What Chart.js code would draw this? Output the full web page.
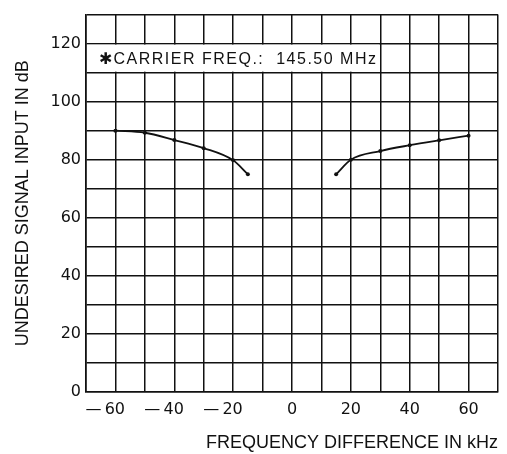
<!DOCTYPE html>
<html>
<head>
<meta charset="utf-8">
<script src="https://cdn.jsdelivr.net/npm/chart.js@4.4.1/dist/chart.umd.min.js"></script>
<style>
  html, body { margin: 0; padding: 0; background: #fff; }
  #wrap { width: 507px; height: 454px; }
</style>
</head>
<body>
<div id="wrap"><canvas id="c" width="507" height="454"></canvas></div>
<script>
// ---- data ----
const leftFreq   = [-60, -50, -40, -30, -20, -15];
const leftLevel  = [90, 89.3, 86.8, 84, 79.8, 75];
const rightFreq  = [15, 20, 30, 40, 50, 60];
const rightLevel = [75, 80, 83, 85, 86.7, 88.3];

const xTickLabels = [-60, -40, -20, 0, 20, 40, 60];
const yTickLabels = [0, 20, 40, 60, 80, 100, 120];

const xTitle = 'FREQUENCY DIFFERENCE IN kHz';
const yTitle = 'UNDESIRED SIGNAL INPUT IN dB';
const noteText = '\u2731CARRIER FREQ.:  145.50 MHz';
const noteBox = { x0: -70, x1: 30, y0: 110, y1: 120 };

const toPoints = (xs, ys) => xs.map((x, i) => ({ x: x, y: ys[i] }));

const ink = '#111';

const notePlugin = {
  id: 'note',
  beforeDatasetsDraw(chart) {
    const { ctx, scales: { x, y } } = chart;
    const l = x.getPixelForValue(noteBox.x0);
    const r = x.getPixelForValue(noteBox.x1);
    const t = y.getPixelForValue(noteBox.y1);
    const b = y.getPixelForValue(noteBox.y0);
    ctx.save();
    ctx.fillStyle = '#fff';
    ctx.fillRect(l + 1, t + 1, r - l - 2, b - t - 2);
    ctx.fillStyle = ink;
    ctx.font = '16px "Liberation Sans", Arial, sans-serif';
    try { ctx.letterSpacing = '1.5px'; } catch (e) {}
    ctx.textBaseline = 'middle';
    ctx.textAlign = 'left';
    ctx.fillText(noteText, l + 13, (t + b) / 2 + 1);
    ctx.restore();
  }
};

const lineStyle = {
  borderColor: ink,
  backgroundColor: ink,
  borderWidth: 1.8,
  pointRadius: 2,
  pointHoverRadius: 2,
  pointBackgroundColor: ink,
  pointBorderWidth: 0,
  cubicInterpolationMode: 'monotone',
  fill: false
};

new Chart(document.getElementById('c'), {
  type: 'line',
  data: {
    datasets: [
      Object.assign({ label: 'lower', data: toPoints(leftFreq, leftLevel) }, lineStyle),
      Object.assign({ label: 'upper', data: toPoints(rightFreq, rightLevel) }, lineStyle)
    ]
  },
  options: {
    responsive: false,
    animation: false,
    devicePixelRatio: 1,
    layout: { padding: { top: 6, right: 9, left: 0, bottom: 0 } },
    plugins: { legend: { display: false }, tooltip: { enabled: false } },
    scales: {
      x: {
        type: 'linear',
        min: -70, max: 70,
        afterFit: (s) => { s.height = 62; },
        grid: { color: ink, lineWidth: 1.5, drawTicks: false },
        border: { color: ink, width: 1.6 },
        ticks: {
          stepSize: 10,
          autoSkip: false,
          maxRotation: 0,
          padding: 8,
          color: ink,
          font: { family: '"DejaVu Sans", sans-serif', size: 16 },
          callback: (v) => {
            if (!xTickLabels.includes(v)) return '';
            return v < 0 ? '\u2014\u2009' + Math.abs(v) + '\u2007\u2007' : String(v);
          }
        },
        title: {
          display: true,
          text: xTitle,
          align: 'end',
          color: ink,
          padding: { top: 0, bottom: 0 },
          font: { family: '"Liberation Sans", Arial, sans-serif', size: 18, lineHeight: 1.2 }
        }
      },
      y: {
        type: 'linear',
        min: 0, max: 130,
        afterFit: (s) => { s.width = 86; },
        grid: { color: ink, lineWidth: 1.5, drawTicks: false },
        border: { color: ink, width: 1.6 },
        ticks: {
          stepSize: 10,
          autoSkip: false,
          padding: 5,
          color: ink,
          font: { family: '"DejaVu Sans", sans-serif', size: 16 },
          callback: (v) => yTickLabels.includes(v) ? String(v) : ''
        },
        title: {
          display: true,
          text: yTitle,
          color: ink,
          padding: { top: 12, bottom: 0 },
          font: { family: '"Liberation Sans", Arial, sans-serif', size: 18, lineHeight: 1.2 }
        }
      }
    }
  },
  plugins: [notePlugin]
});
</script>
</body>
</html>
